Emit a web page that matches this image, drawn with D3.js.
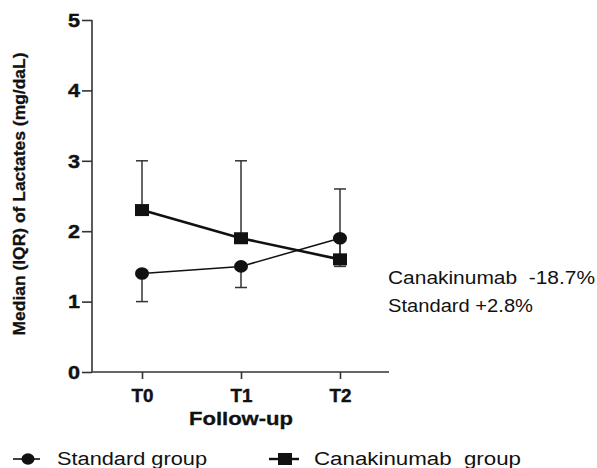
<!DOCTYPE html>
<html><head><meta charset="utf-8">
<script src="https://cdn.jsdelivr.net/npm/d3@7"></script>
<style>body{margin:0;background:#fff}svg{display:block}</style>
</head><body>
<svg id="c" width="597" height="468"></svg>
<script>
const timepoints = ["T0", "T1", "T2"];
const standardMedian = [1.4, 1.5, 1.9];
const standardLower = [1.0, 1.2, 1.5];
const canakMedian = [2.3, 1.9, 1.6];
const canakUpper = [3.0, 3.0, 2.6];
const yTicks = [0, 1, 2, 3, 4, 5];
const notes = ["Canakinumab  -18.7%", "Standard +2.8%"];
const legendLabels = ["Standard group", "Canakinumab  group"];

const svg = d3.select("#c");
const font = "Liberation Sans, Arial, sans-serif";
const x = d3.scalePoint().domain(timepoints).range([142, 340]);
const y = d3.scaleLinear().domain([0, 5]).range([372, 20]);
const ink = "#111";

// axes
const yAxis = svg.append("g").attr("transform", "translate(92,0)")
  .call(d3.axisLeft(y).tickValues(yTicks).tickSize(10).tickPadding(2).tickFormat(d3.format("d")));
yAxis.select(".domain").attr("d", `M0,${y(5)}V${y(0)}`);
const xAxis = svg.append("g").attr("transform", `translate(0,${y(0)})`)
  .call(d3.axisBottom(x).tickSize(7).tickPadding(11));
xAxis.select(".domain").attr("d", "M92,0H389");
svg.selectAll(".domain, .tick line").attr("stroke", "#333").attr("stroke-width", 1.6);
svg.selectAll(".tick text").attr("font-family", font).attr("font-weight", "bold")
  .attr("font-size", 17.5).attr("fill", ink).attr("stroke", ink).attr("stroke-width", 0.4);
yAxis.selectAll(".tick text").attr("dy", "0.36em").attr("textLength", 12).attr("lengthAdjust", "spacingAndGlyphs");
xAxis.selectAll(".tick text").attr("dy", "0.71em").attr("textLength", 22).attr("lengthAdjust", "spacingAndGlyphs");

// axis titles
svg.append("text").attr("transform", "translate(25,194) rotate(-90)")
  .attr("text-anchor", "middle").attr("font-family", font).attr("font-weight", "bold")
  .attr("font-size", 17).attr("textLength", 283).attr("lengthAdjust", "spacingAndGlyphs")
  .attr("fill", ink).attr("stroke", ink).attr("stroke-width", 0.3).text("Median (IQR) of Lactates (mg/daL)");
svg.append("text").attr("x", 241).attr("y", 425).attr("text-anchor", "middle")
  .attr("font-family", font).attr("font-weight", "bold").attr("font-size", 18)
  .attr("textLength", 104).attr("lengthAdjust", "spacingAndGlyphs")
  .attr("fill", ink).attr("stroke", ink).attr("stroke-width", 0.3).text("Follow-up");

// error bars
function errBars(med, ends) {
  timepoints.forEach((t, i) => {
    svg.append("line").attr("x1", x(t)).attr("x2", x(t)).attr("y1", y(med[i])).attr("y2", y(ends[i]))
      .attr("stroke", "#333").attr("stroke-width", 1.5);
    svg.append("line").attr("x1", x(t) - 6).attr("x2", x(t) + 6).attr("y1", y(ends[i])).attr("y2", y(ends[i]))
      .attr("stroke", "#333").attr("stroke-width", 1.5);
  });
}
errBars(canakMedian, canakUpper);
errBars(standardMedian, standardLower);

const line = d3.line().x((d, i) => x(timepoints[i])).y(d => y(d));
svg.append("path").datum(standardMedian).attr("d", line).attr("fill", "none")
  .attr("stroke", ink).attr("stroke-width", 1.5);
svg.append("path").datum(canakMedian).attr("d", line).attr("fill", "none")
  .attr("stroke", ink).attr("stroke-width", 2.6);

svg.selectAll(".circ").data(standardMedian).join("ellipse")
  .attr("cx", (d, i) => x(timepoints[i])).attr("cy", d => y(d)).attr("rx", 7).attr("ry", 6.3).attr("fill", ink);
svg.selectAll(".sq").data(canakMedian).join("rect")
  .attr("x", (d, i) => x(timepoints[i]) - 7).attr("y", d => y(d) - 6)
  .attr("width", 14).attr("height", 12).attr("fill", ink);

// notes
const noteLens = [207, 145];
notes.forEach((n, i) => {
  svg.append("text").attr("x", 388).attr("y", 284 + i * 28).attr("font-family", font)
    .attr("font-size", 17.5).attr("fill", ink).attr("xml:space", "preserve")
    .style("white-space", "pre")
    .attr("textLength", noteLens[i]).attr("lengthAdjust", "spacingAndGlyphs").text(n);
});

// legend
const ly = 459;
svg.append("line").attr("x1", 13).attr("x2", 40).attr("y1", ly).attr("y2", ly).attr("stroke", ink).attr("stroke-width", 1.6);
svg.append("ellipse").attr("cx", 28).attr("cy", ly).attr("rx", 6.5).attr("ry", 5.8).attr("fill", ink);
svg.append("text").attr("x", 57).attr("y", 465).attr("font-family", font).attr("font-size", 18)
  .attr("textLength", 150).attr("lengthAdjust", "spacingAndGlyphs")
  .attr("fill", ink).text(legendLabels[0]);
svg.append("line").attr("x1", 269).attr("x2", 299).attr("y1", ly).attr("y2", ly).attr("stroke", ink).attr("stroke-width", 2.4);
svg.append("rect").attr("x", 278).attr("y", ly - 6).attr("width", 14).attr("height", 12).attr("fill", ink);
svg.append("text").attr("x", 314).attr("y", 465).attr("font-family", font).attr("font-size", 18)
  .attr("xml:space", "preserve").style("white-space", "pre")
  .attr("textLength", 207).attr("lengthAdjust", "spacingAndGlyphs")
  .attr("fill", ink).text(legendLabels[1]);
</script>
</body></html>
